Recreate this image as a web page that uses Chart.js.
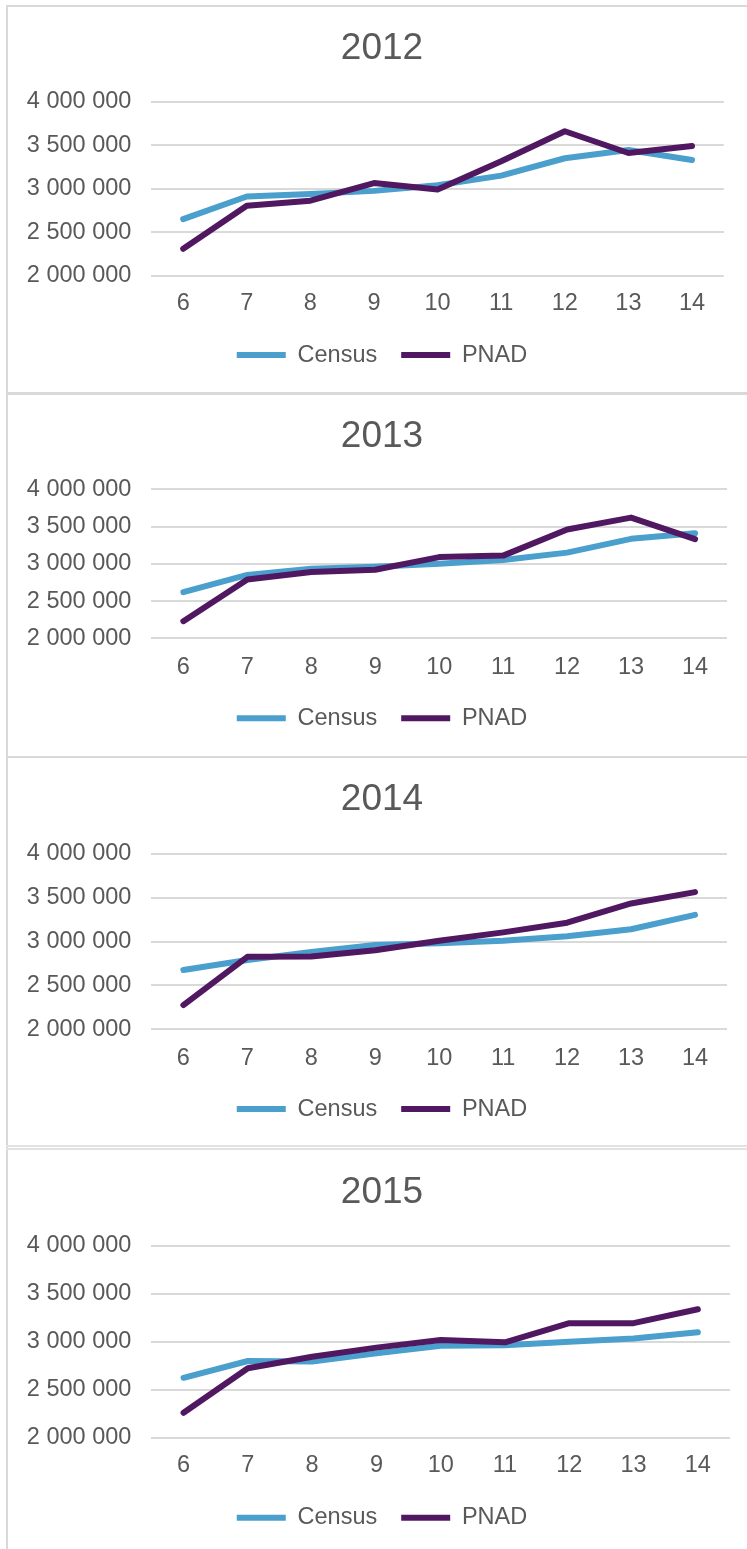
<!DOCTYPE html>
<html>
<head>
<meta charset="utf-8">
<script src="https://cdn.jsdelivr.net/npm/chart.js@4.4.1/dist/chart.umd.min.js"></script>
<style>
  html, body { margin: 0; padding: 0; background: #ffffff; }
  body { width: 747px; height: 1549px; overflow: hidden; position: relative; }
  canvas { position: absolute; left: 8px; }
  .ln { position: absolute; background: #d9d9d9; }
</style>
</head>
<body>
<div class="ln" style="left:6px; top:5px; width:2px; height:1544px;"></div>
<div class="ln" style="left:6px; top:4.5px; width:741px; height:2px;"></div>
<div class="ln" style="left:6px; top:392px; width:741px; height:2.5px;"></div>
<div class="ln" style="left:6px; top:755.5px; width:741px; height:2px;"></div>
<div class="ln" style="left:6px; top:1145px; width:741px; height:2px; background:#e2e2e2;"></div>
<div class="ln" style="left:6px; top:1148px; width:741px; height:1.5px; background:#e2e2e2;"></div>

<canvas id="c2012" width="744" height="385" style="top:7px;"></canvas>
<canvas id="c2013" width="744" height="360" style="top:395px;"></canvas>
<canvas id="c2014" width="744" height="387" style="top:758px;"></canvas>
<canvas id="c2015" width="744" height="399" style="top:1150px;"></canvas>

<script>
// ---- data ----
const ages = ['6', '7', '8', '9', '10', '11', '12', '13', '14'];
const seriesNames = ['Census', 'PNAD'];
const panelYears = ['2012', '2013', '2014', '2015'];
const yTicks = [2000000, 2500000, 3000000, 3500000, 4000000];

const census2012 = [2650000, 2910000, 2940000, 2975000, 3040000, 3150000, 3350000, 3445000, 3330000];
const pnad2012   = [2310000, 2805000, 2862000, 3065000, 2990000, 3315000, 3660000, 3410000, 3490000];

const census2013 = [2620000, 2850000, 2935000, 2960000, 3000000, 3050000, 3150000, 3335000, 3410000];
const pnad2013   = [2230000, 2790000, 2890000, 2920000, 3090000, 3110000, 3460000, 3620000, 3330000];

const census2014 = [2675000, 2790000, 2880000, 2960000, 2980000, 3010000, 3060000, 3140000, 3305000];
const pnad2014   = [2275000, 2825000, 2828000, 2900000, 3010000, 3105000, 3215000, 3435000, 3565000];

const census2015 = [2625000, 2800000, 2795000, 2880000, 2960000, 2965000, 3000000, 3035000, 3100000];
const pnad2015   = [2260000, 2725000, 2845000, 2940000, 3020000, 2995000, 3195000, 3195000, 3340000];

const censusByYear = [census2012, census2013, census2014, census2015];
const pnadByYear = [pnad2012, pnad2013, pnad2014, pnad2015];

// ---- layout / style (per panel) ----
const panelLayout = [
  { id: 'c2012', titleTop: 19.1, titleBottom: 31.2, xPad: 13.5, xHeight: 43.6, bottom: 15.2, rightW: 28.2 },
  { id: 'c2013', titleTop: 19.5, titleBottom: 30.4, xPad: 14.9, xHeight: 44.2, bottom: 15.0, rightW: 25 },
  { id: 'c2014', titleTop: 19.8, titleBottom: 31.8, xPad: 15.2, xHeight: 44.2, bottom: 14.2, rightW: 25 },
  { id: 'c2015', titleTop: 20.1, titleBottom: 31.5, xPad: 13.9, xHeight: 44.2, bottom: 9.6,  rightW: 22 }
];
const LEFT_PAD = 4;
const FONT = '"Liberation Sans", Arial, sans-serif';
const TEXT = '#595959';
const GRID = '#d9d9d9';
const COLORS = ['#4a9fcd', '#511862'];

function fmt(v) {
  return String(v).replace(/\B(?=(\d{3})+(?!\d))/g, ' ');
}

panelYears.forEach((year, i) => {
  const L = panelLayout[i];
  const seriesData = [censusByYear[i], pnadByYear[i]];
  new Chart(document.getElementById(L.id), {
    type: 'line',
    data: {
      labels: ages,
      datasets: seriesNames.map((name, k) => ({
        label: name,
        data: seriesData[k],
        borderColor: COLORS[k],
        backgroundColor: COLORS[k],
        borderWidth: 6,
        borderCapStyle: 'round',
        borderJoinStyle: 'round',
        pointRadius: 0,
        pointHoverRadius: 0,
        tension: 0,
        fill: false,
        order: k === 0 ? 1 : 0,
        yAxisID: 'y'
      }))
    },
    options: {
      responsive: false,
      animation: false,
      events: [],
      layout: { padding: { top: 0, left: LEFT_PAD, right: 0, bottom: L.bottom } },
      plugins: {
        tooltip: { enabled: false },
        title: {
          display: true,
          text: year,
          color: TEXT,
          font: { family: FONT, size: 37, weight: 'normal', lineHeight: 1.2 },
          padding: { top: L.titleTop, bottom: L.titleBottom }
        },
        legend: {
          display: true,
          position: 'bottom',
          align: 'center',
          labels: {
            usePointStyle: true,
            pointStyle: 'line',
            pointStyleWidth: 49,
            padding: 24,
            color: TEXT,
            font: { family: FONT, size: 23.5 },
            sort: (a, b) => a.datasetIndex - b.datasetIndex
          }
        }
      },
      scales: {
        x: {
          type: 'category',
          offset: true,
          grid: { display: false, drawTicks: false },
          border: { display: false },
          ticks: {
            color: TEXT,
            font: { family: FONT, size: 23.5 },
            padding: L.xPad,
            maxRotation: 0,
            autoSkip: false
          },
          afterFit: (s) => { s.height = L.xHeight; }
        },
        y: {
          type: 'linear',
          position: 'left',
          min: yTicks[0],
          max: yTicks[yTicks.length - 1],
          afterBuildTicks: (s) => { s.ticks = yTicks.map(v => ({ value: v })); },
          grid: { color: GRID, lineWidth: 2, drawTicks: false },
          border: { display: false },
          ticks: {
            color: TEXT,
            font: { family: FONT, size: 23.5 },
            padding: 20,
            callback: (v) => fmt(v)
          },
          afterFit: (s) => { s.width = 143.4 - LEFT_PAD; }
        },
        yR: {
          type: 'linear',
          position: 'right',
          display: true,
          grid: { display: false, drawTicks: false },
          border: { display: false },
          ticks: { display: false },
          afterFit: (s) => { s.width = L.rightW; }
        }
      }
    }
  });
});
</script>
</body>
</html>
